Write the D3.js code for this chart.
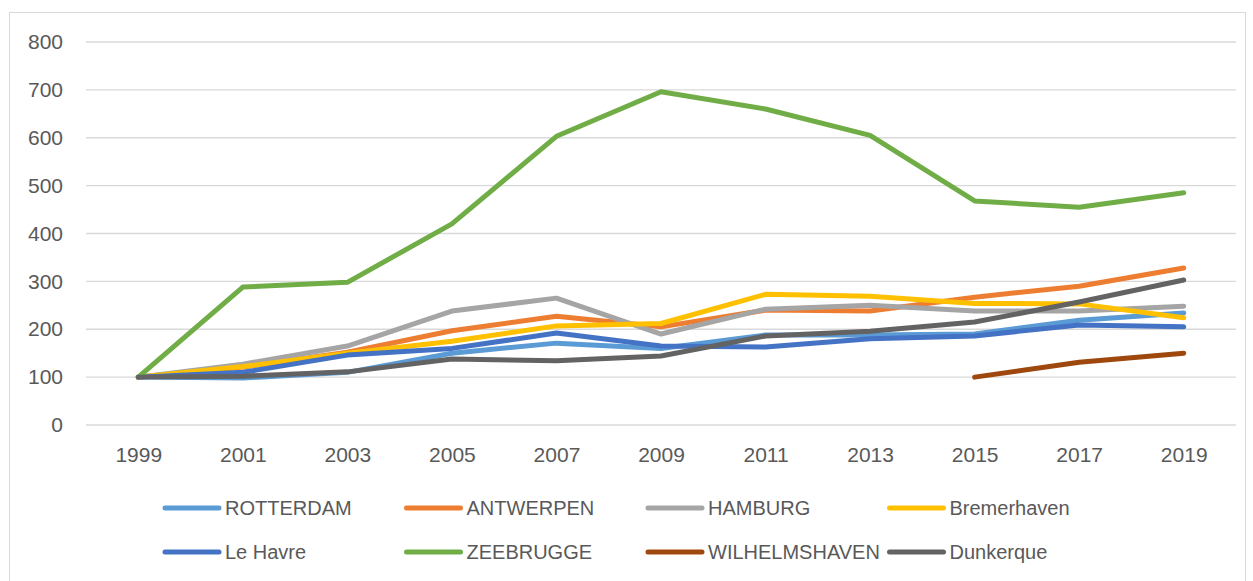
<!DOCTYPE html>
<html>
<head>
<meta charset="utf-8">
<script src="https://cdn.jsdelivr.net/npm/d3@7"></script>
<style>
  body { margin: 0; background: #fff; }
  text { font-family: "Liberation Sans", Arial, sans-serif; fill: #595959; }
</style>
</head>
<body>
<svg id="chart" width="1253" height="581"></svg>
<script>
// jaren (categorieen)
var years = ["1999", "2001", "2003", "2005", "2007", "2009", "2011", "2013", "2015", "2017", "2019"];
var yTicks = [0, 100, 200, 300, 400, 500, 600, 700, 800];

// waarden per haven (null = geen data)
var rotterdam     = [100, 98, 110, 150, 171, 160, 188, 188, 190, 219, 234];
var antwerpen     = [100, 121, 152, 197, 227, 205, 240, 238, 267, 290, 328];
var hamburg       = [100, 127, 165, 238, 265, 190, 242, 250, 238, 238, 248];
var bremerhaven   = [100, 122, 150, 175, 207, 212, 273, 269, 254, 253, 224];
var leHavre       = [100, 110, 146, 160, 192, 165, 163, 180, 186, 209, 205];
var zeebrugge     = [100, 288, 298, 420, 603, 696, 660, 605, 468, 455, 485];
var wilhelmshaven = [null, null, null, null, null, null, null, null, 100, 131, 150];
var dunkerque     = [100, 102, 111, 138, 134, 144, 186, 196, 215, 257, 303];

var names  = ["ROTTERDAM", "ANTWERPEN", "HAMBURG", "Bremerhaven", "Le Havre", "ZEEBRUGGE", "WILHELMSHAVEN", "Dunkerque"];
var colors = ["#5B9BD5", "#ED7D31", "#A5A5A5", "#FFC000", "#4472C4", "#70AD47", "#9E480E", "#636363"];
var values = [rotterdam, antwerpen, hamburg, bremerhaven, leHavre, zeebrugge, wilhelmshaven, dunkerque];

var series = names.map(function(n, i) {
  return { name: n, color: colors[i], values: values[i] };
});

var svg = d3.select("#chart");

// kader rond grafiek
svg.append("rect")
  .attr("x", 9.5).attr("y", 12.5)
  .attr("width", 1236).attr("height", 575)
  .attr("fill", "none")
  .attr("stroke", "#D9D9D9")
  .attr("stroke-width", 1);

var x = d3.scalePoint()
  .domain(years)
  .range([86, 1236])
  .padding(0.5);

var y = d3.scaleLinear()
  .domain([0, 800])
  .range([425, 42]);

// rasterlijnen
svg.append("g")
  .selectAll("line")
  .data(yTicks)
  .enter()
  .append("line")
  .attr("x1", 86)
  .attr("x2", 1236)
  .attr("y1", function(d) { return y(d); })
  .attr("y2", function(d) { return y(d); })
  .attr("stroke", "#D9D9D9")
  .attr("stroke-width", 1.3);

// y as labels
var yAxis = svg.append("g")
  .attr("transform", "translate(68,0)")
  .call(d3.axisLeft(y).tickValues(yTicks).tickSize(0).tickPadding(5));
yAxis.select(".domain").remove();
yAxis.selectAll("text")
  .style("font-size", "21px")
  .attr("fill", "#595959");

// x as labels
var xAxis = svg.append("g")
  .attr("transform", "translate(0,425)")
  .call(d3.axisBottom(x).tickSize(0).tickPadding(22));
xAxis.select(".domain").remove();
xAxis.selectAll("text")
  .style("font-size", "21px")
  .attr("fill", "#595959");

var line = d3.line()
  .defined(function(d) { return d != null; })
  .x(function(d, i) { return x(years[i]); })
  .y(function(d) { return y(d); });

svg.append("g")
  .selectAll("path")
  .data(series)
  .enter()
  .append("path")
  .attr("fill", "none")
  .attr("stroke", function(d) { return d.color; })
  .attr("stroke-width", 5)
  .attr("stroke-linejoin", "round")
  .attr("stroke-linecap", "round")
  .attr("d", function(d) { return line(d.values); });

// legenda
var legend = svg.append("g");
var item = legend.selectAll("g")
  .data(series)
  .enter()
  .append("g")
  .attr("transform", function(d, i) {
    return "translate(" + (165 + (i % 4) * 241.5) + "," + (508 + Math.floor(i / 4) * 44) + ")";
  });

item.append("line")
  .attr("x1", 0).attr("x2", 54)
  .attr("y1", 0).attr("y2", 0)
  .attr("stroke", function(d) { return d.color; })
  .attr("stroke-width", 5)
  .attr("stroke-linecap", "round");

item.append("text")
  .attr("x", 60)
  .attr("y", 0)
  .attr("dy", "0.35em")
  .style("font-size", "20px")
  .text(function(d) { return d.name; });
</script>
</body>
</html>
